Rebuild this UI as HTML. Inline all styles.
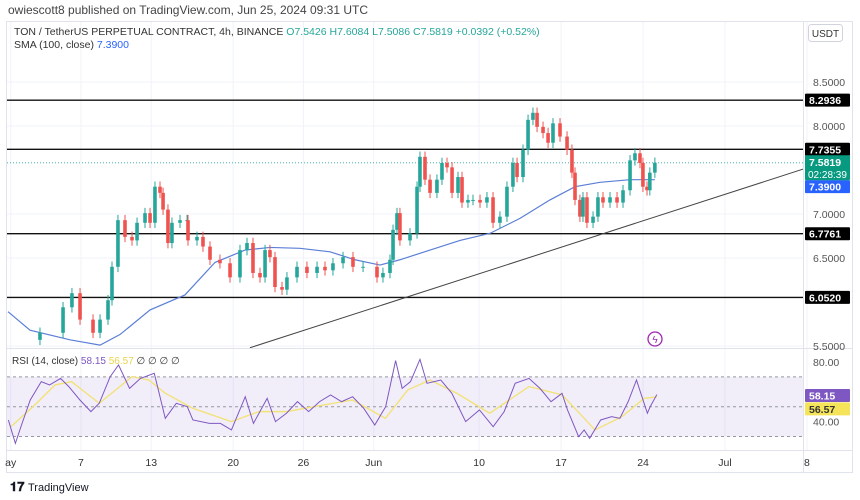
<!DOCTYPE html>
<html><head><meta charset="utf-8"><style>
body{margin:0;background:#fff;font-family:"Liberation Sans",sans-serif;}
#wrap{position:relative;width:860px;height:500px;overflow:hidden;background:#fff}
</style></head><body>
<div id="wrap">
<svg id="svg" width="860" height="500" xmlns="http://www.w3.org/2000/svg">
<text x="8" y="14" font-size="12" fill="#444">owiescott8 published on TradingView.com, Jun 25, 2024 09:31 UTC</text>
<rect x="6.5" y="21.5" width="846" height="451" fill="none" stroke="#e0e3eb"/>
<g id="grid"></g>
<g id="price" clip-path="url(#cp)"></g>
<g id="rsi"></g>
<line x1="6" y1="348.5" x2="852" y2="348.5" stroke="#e0e3eb"/>
<line x1="803.5" y1="22" x2="803.5" y2="472" stroke="#e0e3eb"/>
<line x1="6" y1="450.5" x2="852" y2="450.5" stroke="#e0e3eb"/>
<g id="axes"></g>
<text x="14" y="35" font-size="10.5" fill="#333">TON / TetherUS PERPETUAL CONTRACT, 4h, BINANCE <tspan fill="#26a69a">O7.5426 H7.6084 L7.5086 C7.5819 +0.0392 (+0.52%)</tspan></text>
<text x="14" y="48" font-size="10.5" fill="#333">SMA (100, close) <tspan fill="#2962ff">7.3900</tspan></text>
<text x="12" y="364" font-size="10" fill="#333">RSI (14, close) <tspan fill="#7e57c2">58.15</tspan> <tspan fill="#e8d44d">56.57</tspan> ∅ ∅ ∅ ∅</text>
<rect x="808.5" y="24.5" width="34" height="17" rx="3" fill="#fff" stroke="#d1d4dc"/>
<text x="825.5" y="37" font-size="10" text-anchor="middle" fill="#333">USDT</text>
<circle cx="655" cy="339" r="7" fill="none" stroke="#9c27b0" stroke-width="1.3"/>
<text x="655" y="343" font-size="10" text-anchor="middle" fill="#9c27b0">ϟ</text>
<text x="10" y="491" font-size="13" font-weight="bold" fill="#131722">𝟏𝟕</text>
<text x="28" y="491" font-size="11" fill="#131722">TradingView</text>
<defs><clipPath id="cp"><rect x="7" y="22" width="796" height="326"/></clipPath></defs>
</svg>
</div>
<script>
// price data (day offset since May 1, close price)
const candleDays=[2.5,4.47,5.23,5.92,7.03,7.63,8.31,8.65,9.16,9.76,10.36,10.79,11.47,11.9,12.32,12.75,13.01,13.43,13.77,14.46,15.06,15.14,15.91,16.42,17.02,17.87,18.73,19.58,20.18,20.69,21.29,21.72,22.14,22.57,23.17,23.59,24.45,25.3,26.16,26.84,27.52,28.38,29.23,30.09,31.28,31.79,32.39,32.65,32.99,33.24,34.1,34.7,34.95,35.38,35.81,36.4,36.83,37.26,37.69,38.2,38.54,39.05,39.48,40.08,40.67,41.19,41.78,42.38,42.89,43.24,43.75,44.18,44.6,44.95,45.46,45.89,46.31,46.91,47.51,47.93,48.19,48.61,48.87,49.21,49.73,50.15,50.58,51.18,51.78,52.29,52.89,53.31,53.74,53.99,54.34,54.58,55.01];
const closes=[5.65,5.94,6.10,5.80,5.65,5.80,6.02,6.40,6.93,6.74,6.70,6.90,7.01,6.90,7.31,7.24,7.05,6.67,6.90,6.93,6.93,6.70,6.74,6.63,6.48,6.44,6.28,6.59,6.67,6.33,6.28,6.59,6.51,6.17,6.14,6.28,6.40,6.33,6.40,6.36,6.44,6.51,6.40,6.40,6.28,6.33,6.48,6.82,7.01,6.70,6.78,7.31,7.65,7.39,7.24,7.39,7.58,7.53,7.24,7.42,7.13,7.16,7.16,7.13,7.19,6.90,6.97,7.31,7.58,7.42,7.73,8.07,8.15,7.99,7.92,7.81,8.03,7.88,7.73,7.47,7.16,6.97,7.19,6.90,6.97,7.19,7.13,7.19,7.13,7.27,7.61,7.69,7.58,7.31,7.27,7.47,7.5819];
const smaDays=[-0.23,1.65,5.06,7.63,9.33,11.9,14.88,17.45,20.01,22.14,24.7,27.27,29.4,31.53,33.24,35.81,38.37,40.93,43.49,46.05,48.19,50.32,52.89,55.01];
const smaValues=[5.89,5.68,5.57,5.51,5.63,5.91,6.08,6.45,6.59,6.62,6.61,6.57,6.48,6.42,6.48,6.59,6.70,6.78,6.95,7.16,7.31,7.36,7.39,7.39];
const levels=[8.2936,7.7355,6.7761,6.0520];
const trendDays=[20.43,67.9];
const trendValues=[5.48,7.52];
const priceTicks=[8.5,8.0,7.0,6.5,5.5];
const rsiDays=[-0.2,0.4,0.97,1.67,2.61,3.32,4.26,4.97,5.91,6.85,7.56,8.5,9.21,10.15,11.08,12.26,13.2,14.14,15.08,15.56,16.97,17.91,18.85,20.03,20.73,21.9,22.61,23.55,24.49,25.44,26.38,27.32,28.26,29.2,30.15,31.09,32.02,32.87,33.43,34.14,34.95,35.55,36.73,37.67,38.85,40.03,41.2,42.14,43.08,44.26,45.2,46.14,47.08,47.55,48.5,48.97,49.44,50.38,51.32,52.02,52.73,53.44,54.37,54.61,55.18];
const rsiValues=[41.1,25.4,38.8,54.5,66.8,64.6,69.0,63.4,54.5,46.7,52.3,70.2,78.0,62.3,69.0,72.4,42.2,52.3,50.0,41.1,38.8,38.8,34.4,56.7,38.8,55.6,40.0,45.6,53.4,46.7,53.4,57.9,53.4,56.7,48.9,37.7,50.0,80.9,62.3,66.8,81.8,65.7,67.9,59.0,40.0,47.8,36.6,46.7,65.7,69.0,62.3,53.4,59.0,47.8,29.9,34.4,28.8,41.1,43.3,42.2,53.4,67.9,45.6,50.0,58.15];
const rsiMaDays=[0.03,1.9,3.79,5.2,7.56,10.37,11.8,13.2,15.56,18.85,21.2,23.55,25.9,29.2,32.0,33.9,35.8,38.1,40.9,44.26,47.1,49.9,52.2,54.1,55.18];
const rsiMaValues=[36.6,50,64.6,66.8,52.3,70.2,67.9,59,48.9,40,46.7,46.7,50,54.5,42.2,61.2,67.9,59,45.6,63.5,57.9,34.4,43.3,55.6,56.57];
const timeLabels=["ay","7","13","20","26","Jun","10","17","24","Jul","8"];
const timeLabelDays=[0,6,12,19,25,31,40,47,54,61,68];

const NS="http://www.w3.org/2000/svg";
const xOf=d=>10.7+d*11.71;
const yP=p=>126+(8-p)*88;
const yR=v=>362+(80-v)*1.49;
function mk(parent,tag,attrs){const e=document.createElementNS(NS,tag);for(const k in attrs)e.setAttribute(k,attrs[k]);document.getElementById(parent).appendChild(e);return e;}

timeLabelDays.forEach((d,i)=>{
  const g=mk('grid','line',{x1:xOf(d),x2:xOf(d),y1:22,y2:450,stroke:'#f0f3fa'});
  
  
  const t=mk('axes','text',{x:xOf(d),y:466,'font-size':10.5,'text-anchor':'middle',fill:'#333'});
  t.textContent=timeLabels[i];
  
  
});
priceTicks.forEach(p=>{
  const g=mk('grid','line',{x1:7,x2:803,y1:yP(p),y2:yP(p),stroke:'#f0f3fa'});
  
  
  const t=mk('axes','text',{x:813,y:yP(p)+4,'font-size':10.5,fill:'#555'});
  t.textContent=p.toFixed(4);
  
  
});

levels.forEach(l=>{
  const ln=mk('price','line',{x1:7,x2:803,y1:yP(l),y2:yP(l),stroke:'#111','stroke-width':1.4});
  
  
});
const lp=mk('price','line',{x1:7,x2:803,y1:yP(closes[closes.length-1]),y2:yP(closes[closes.length-1]),stroke:'#26a69a','stroke-dasharray':'1 2','stroke-width':0.8});


const tl=mk('price','line',{x1:xOf(trendDays[0]),y1:yP(trendValues[0]),x2:xOf(trendDays[1]),y2:yP(trendValues[1]),stroke:'#444','stroke-width':1});


const sma=mk('price','polyline',{points:smaDays.map((d,i)=>xOf(d)+','+yP(smaValues[i])).join(' '),fill:'none',stroke:'#5b7fd6','stroke-width':1.2});


candleDays.forEach((d,i)=>{
  const c=closes[i], o=i?closes[i-1]:c-0.08;
  const up=c>=o, col=up?'#26a69a':'#ef5350';
  const x=xOf(d), hi=Math.max(o,c)+0.06, lo=Math.min(o,c)-0.06;
  const w=mk('price','line',{x1:x,x2:x,y1:yP(hi),y2:yP(lo),stroke:col,'stroke-width':1});
  
  
  const top=yP(Math.max(o,c)),bot=yP(Math.min(o,c));
  const b=mk('price','rect',{x:x-1.8,y:top,width:3.6,height:Math.max(1,bot-top),fill:col});
  
  
});
function lab(y,h,bg,fg,txt,name,sub){
  const r=mk('axes','rect',{x:805,y:y-h/2,width:45,height:h,fill:bg,rx:1});
  
  
  const t=mk('axes','text',{x:809,y:sub?y-2:y+4,'font-size':10.5,'font-weight':'bold',fill:fg});
  t.textContent=txt;
  
  
  if(sub){const s=mk('axes','text',{x:808,y:y+10,'font-size':10,fill:fg});s.textContent=sub;
  
  }
}
levels.forEach(l=>lab(yP(l),13,'#000','#fff',l.toFixed(4),'level-price-label'));
lab(yP(smaValues[smaValues.length-1])+7,13,'#2962ff','#fff',smaValues[smaValues.length-1].toFixed(4),'sma-price-label');
lab(yP(closes[closes.length-1])+5,25,'#089981','#fff',closes[closes.length-1].toFixed(4),'last-price-label','02:28:39');

const band=mk('rsi','rect',{x:7,y:yR(70),width:796,height:yR(30)-yR(70),fill:'#7e57c2','fill-opacity':0.1});


[70,50,30].forEach(v=>{
  const l=mk('rsi','line',{x1:7,x2:803,y1:yR(v),y2:yR(v),stroke:'#9598a1','stroke-dasharray':'3 3','stroke-width':1});
  
  
});
[80,40].forEach(v=>{
  const t=mk('axes','text',{x:813,y:yR(v)+4,'font-size':10.5,fill:'#555'});
  t.textContent=v.toFixed(2);
  
  
});
const rma=mk('rsi','polyline',{points:rsiMaDays.map((d,i)=>xOf(d)+','+yR(rsiMaValues[i])).join(' '),fill:'none',stroke:'#f2e27a','stroke-width':1.4});


const rl=mk('rsi','polyline',{points:rsiDays.map((d,i)=>xOf(d)+','+yR(rsiValues[i])).join(' '),fill:'none',stroke:'#7e57c2','stroke-width':1});


lab(yR(rsiValues[rsiValues.length-1])+1,13,'#7e57c2','#fff',rsiValues[rsiValues.length-1].toFixed(2),'rsi-value-label');
lab(yR(rsiMaValues[rsiMaValues.length-1])+12,13,'#f5e35a','#333',rsiMaValues[rsiMaValues.length-1].toFixed(2),'rsi-ma-value-label');
</script>
</body></html>
